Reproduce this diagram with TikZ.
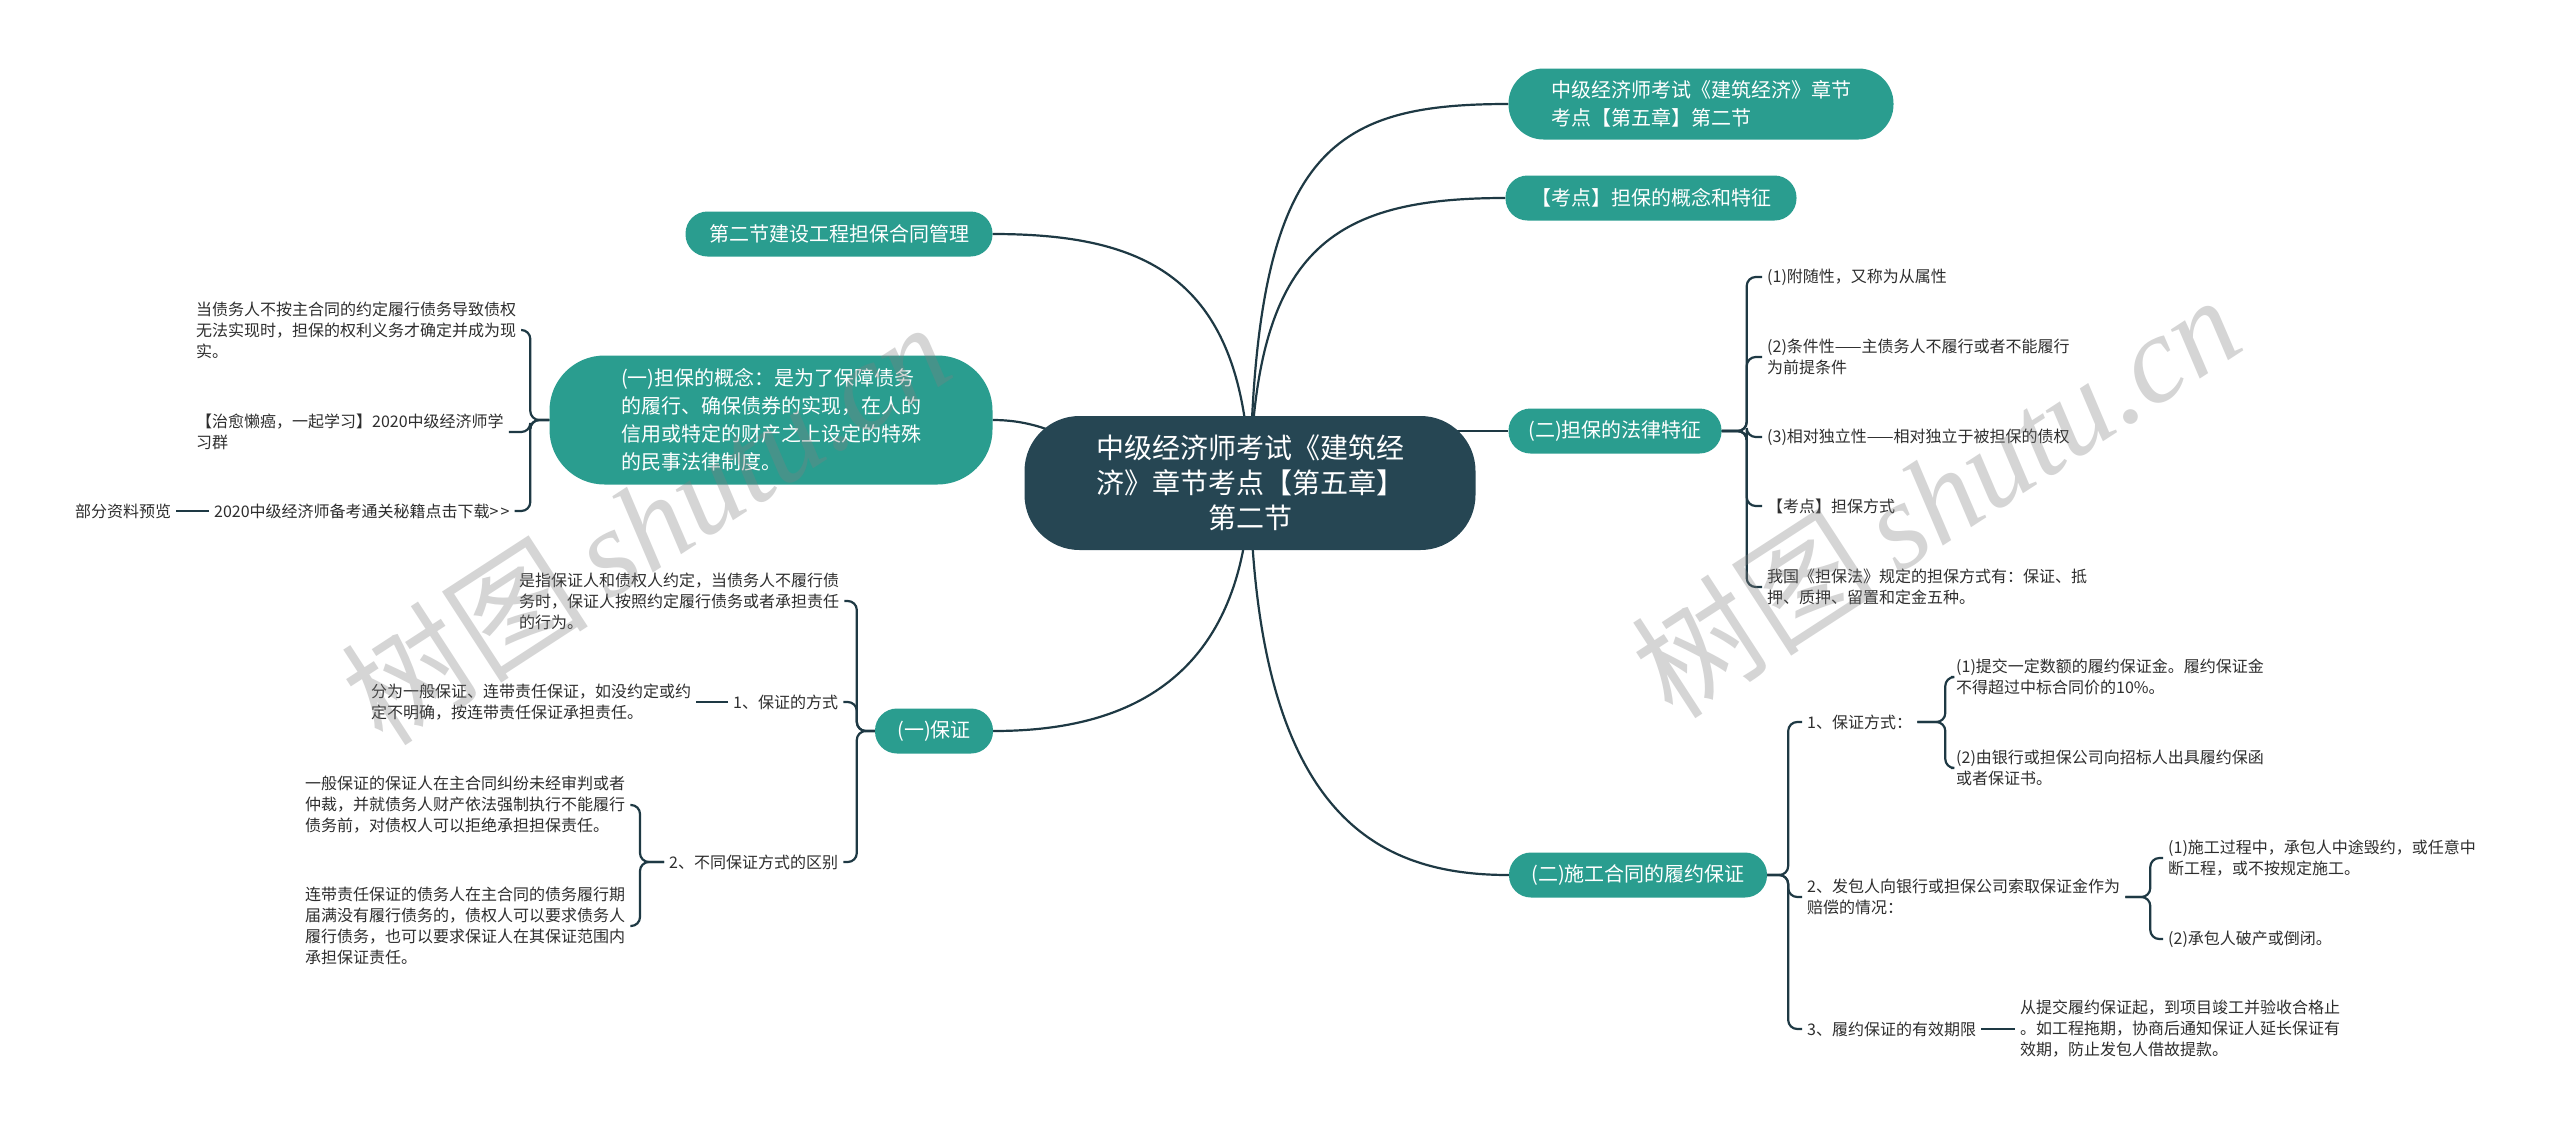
\documentclass[tikz,border=0pt]{standalone}
\usepackage{fontspec}
\setmainfont{Noto Sans CJK SC}
\newfontfamily\wmfont{Liberation Serif}
\usetikzlibrary{backgrounds}
\definecolor{teal1}{HTML}{2A9D8F}
\definecolor{dark1}{HTML}{264653}
\definecolor{line1}{HTML}{1E3944}
\definecolor{txt1}{HTML}{2E2E2E}
\begin{document}
\begin{tikzpicture}[x=1pt,y=-1pt,
 topic/.style={fill=teal1,text=white,rounded corners=22pt,font=\fontsize{20}{28}\selectfont,inner sep=0pt,align=left,minimum height=45pt},
 root/.style={fill=dark1,text=white,rounded corners=55pt,font=\fontsize{28}{35}\selectfont,inner sep=0pt,align=center,minimum width=451pt,minimum height=134pt},
 leaf/.style={text=txt1,font=\fontsize{16}{21}\selectfont,align=left,inner xsep=5pt,inner ysep=2pt,anchor=west},
 con/.style={draw=line1,line width=2.2pt},
 brk/.style={con,rounded corners=9pt},
 wm/.style={text=gray,opacity=0.33,rotate=33,font=\fontsize{124}{124}\selectfont}
]
\useasboundingbox (0,0) rectangle (2560,1133);

% root
\node[root] (root) at (1250,483) {中级经济师考试《建筑经\\济》章节考点【第五章】\\第二节};

% main topics
\node[topic,minimum width=307pt,align=center] (t1) at (839,234) {第二节建设工程担保合同管理};
\node[topic,minimum width=443pt,minimum height=129pt,rounded corners=55pt] (cpt) at (771,420) {(一)担保的概念：是为了保障债务\\的履行、确保债券的实现，在人的\\信用或特定的财产之上设定的特殊\\的民事法律制度。};
\node[topic,minimum width=118pt] (bz) at (934,731) {(一)保证};
\node[topic,minimum width=385pt,minimum height=71pt,rounded corners=35pt] (r1) at (1701,104) {中级经济师考试《建筑经济》章节\\考点【第五章】第二节};
\node[topic,minimum width=291pt] (r2) at (1651,198) {【考点】担保的概念和特征};
\node[topic,minimum width=213pt] (r3) at (1615,431) {(二)担保的法律特征};
\node[topic,minimum width=258pt] (r4) at (1638,875) {(二)施工合同的履约保证};

% concept children
\node[leaf] (a1) at (191,330) {当债务人不按主合同的约定履行债务导致债权\\无法实现时，担保的权利义务才确定并成为现\\实。};
\node[leaf] (a2) at (191,432) {【治愈懒癌，一起学习】2020中级经济师学\\习群};
\node[leaf] (a3) at (209,511) {2020中级经济师备考通关秘籍点击下载>\kern2pt>};
\node[leaf] (a3b) at (70,511) {部分资料预览};

% bz children
\node[leaf] (b1) at (514,601) {是指保证人和债权人约定，当债务人不履行债\\务时，保证人按照约定履行债务或者承担责任\\的行为。};
\node[leaf] (b2) at (728,702) {1、保证的方式};
\node[leaf] (b2a) at (366,702) {分为一般保证、连带责任保证，如没约定或约\\定不明确，按连带责任保证承担责任。};
\node[leaf] (b3) at (664,862) {2、不同保证方式的区别};
\node[leaf] (b3a) at (300,805) {一般保证的保证人在主合同纠纷未经审判或者\\仲裁，并就债务人财产依法强制执行不能履行\\债务前，对债权人可以拒绝承担担保责任。};
\node[leaf] (b3b) at (300,926) {连带责任保证的债务人在主合同的债务履行期\\届满没有履行债务的，债权人可以要求债务人\\履行债务，也可以要求保证人在其保证范围内\\承担保证责任。};

% r3 children
\node[leaf] (c1) at (1762,277) {(1)附随性，又称为从属性};
\node[leaf] (c2) at (1762,357) {(2)条件性——主债务人不履行或者不能履行\\为前提条件};
\node[leaf] (c3) at (1762,437) {(3)相对独立性——相对独立于被担保的债权};
\node[leaf] (c4) at (1762,506) {【考点】担保方式};
\node[leaf] (c5) at (1762,587) {我国《担保法》规定的担保方式有：保证、抵\\押、质押、留置和定金五种。};

% r4 children
\node[leaf] (d1) at (1802,722) {1、保证方式：};
\node[leaf] (d1a) at (1951,677) {(1)提交一定数额的履约保证金。履约保证金\\不得超过中标合同价的10\%。};
\node[leaf] (d1b) at (1951,768) {(2)由银行或担保公司向招标人出具履约保函\\或者保证书。};
\node[leaf] (d2) at (1802,897) {2、发包人向银行或担保公司索取保证金作为\\赔偿的情况：};
\node[leaf] (d2a) at (2163,858) {(1)施工过程中，承包人中途毁约，或任意中\\断工程，或不按规定施工。};
\node[leaf] (d2b) at (2163,939) {(2)承包人破产或倒闭。};
\node[leaf] (d3) at (1802,1029) {3、履约保证的有效期限};
\node[leaf] (d3a) at (2015,1029) {从提交履约保证起，到项目竣工并验收合格止\\。如工程拖期，协商后通知保证人延长保证有\\效期，防止发包人借故提款。};

\begin{scope}[on background layer]
\fill[white] (0,0) rectangle (2560,1133);
\draw[con] (root.center) .. controls (1245,280) and (1150,234) .. (t1.east);
\draw[con] (root.center) .. controls (1100,483) and (1080,420) .. (cpt.east);
\draw[con] (root.center) .. controls (1245,700) and (1100,731) .. (bz.east);
\draw[con] (root.center) .. controls (1255,150) and (1330,104) .. (r1.west);
\draw[con] (root.center) .. controls (1255,250) and (1330,198) .. (r2.west);
\draw[con] (root.center |- r3.west) -- (r3.west);
\draw[con] (root.center) .. controls (1255,820) and (1380,875) .. (r4.west);

% concept bracket
\draw[brk] (cpt.west) -- ++(-19,0) |- (a1.east);
\draw[brk] (cpt.west) -- ++(-19,0) |- (a2.east);
\draw[brk] (cpt.west) -- ++(-19,0) |- (a3.east);
\draw[con] (a3.west) -- (a3b.east);

% bz bracket
\draw[brk] (bz.west) -- ++(-18,0) |- (b1.east);
\draw[brk] (bz.west) -- ++(-18,0) |- (b2.east);
\draw[brk] (bz.west) -- ++(-18,0) |- (b3.east);
\draw[con] (b2.west) -- (b2a.east);
\draw[brk] (b3.west) -- ++(-24,0) |- (b3a.east);
\draw[brk] (b3.west) -- ++(-24,0) |- (b3b.east);

% r3 bracket
\foreach \n in {c1,c2,c3,c4,c5}
  \draw[brk] (r3.east) -- ++(25,0) |- (\n.west);

% r4 bracket
\foreach \n in {d1,d2,d3}
  \draw[brk] (r4.east) -- ++(21,0) |- (\n.west);
\foreach \n in {d1a,d1b}
  \draw[brk] (d1.east) -- ++(28,0) |- (\n.west);
\foreach \n in {d2a,d2b}
  \draw[brk] (d2.east) -- ++(25,0) |- (\n.west);
\draw[con] (d3.east) -- (d3a.west);
\end{scope}

% watermarks
\node[wm] (w1) at (645,522) {树图\,{\wmfont\itshape shutu.cn}};
\node[wm] (w2) at (1935,495) {树图\,{\wmfont\itshape shutu.cn}};
\end{tikzpicture}
\end{document}
